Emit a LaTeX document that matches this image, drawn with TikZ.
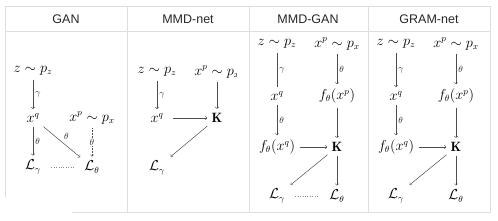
\documentclass[tikz,border=0pt]{standalone}
\usepackage{amsmath}
\usepackage{fontspec}
\newfontfamily\headfont{Liberation Sans}
\begin{document}
\begin{tikzpicture}[x=1pt,y=-1pt,font=\fontsize{13.5}{16}\selectfont,
		arr/.style={->,black!70,line width=0.5pt,shorten >=1pt,shorten <=1pt},
		lab/.style={font=\fontsize{9.5}{11}\selectfont,text=black!85,right,inner sep=2pt},
		cell/.style={black!13,line width=0.6pt},
		head/.style={font=\headfont\fontsize{12.5}{14}\selectfont,text=black!85}]
	\useasboundingbox (0,0) rectangle (498,220);
	% table
	\draw[cell] (5,6)--(490,6)--(490,212)--(72,212);
	\draw[cell] (5,6)--(5,197);
	\draw[cell] (5,31)--(490,31);
	\foreach \x in {127,249,368} \draw[cell] (\x,6)--(\x,212);
	\node[head] (hgan) at (66,19) {GAN};
	\node[head] (hnet) at (188,19) {MMD-net};
	\node[head] (hmgan) at (308,19) {MMD-GAN};
	\node[head] (hgram) at (429,19) {GRAM-net};
	% GAN
	\node (z1) at (33,71) {$z\sim p_z$};
	\node (xq1) at (33,118) {$x^q$};
	\node (xp1) at (92,118) {$x^p\sim p_x$};
	\node (lg1) at (33,167) {$\mathcal{L}_\gamma$};
	\node (lt1) at (92,167) {$\mathcal{L}_\theta$};
	\draw[arr] (z1)--(xq1) node[lab,midway] {$\gamma$};
	\draw[arr] (xq1)--(lg1) node[lab,midway] {$\theta$};
	\draw[arr] (xq1)--(lt1) node[lab,midway,above right] {$\theta$};
	\draw[arr,densely dotted] (xp1)--(lt1) node[midway,fill=white,inner sep=0.5pt,font=\fontsize{9.5}{11}\selectfont,text=black!85] {$\theta$};
	\draw[black!45,dotted,shorten <=7pt,shorten >=7pt] (lg1)--(lt1);
	% MMD-net
	\begin{scope}
		\clip (127,31) rectangle (236,212);
		\node (z2) at (157,72) {$z\sim p_z$};
		\node (xp2) at (217,72) {$x^p\sim p_x$};
		\node (xq2) at (157,118) {$x^q$};
		\node (K2) at (217,118) {$\mathbf{K}$};
		\node (lg2) at (157,168) {$\mathcal{L}_\gamma$};
		\draw[arr] (z2)--(xq2) node[lab,midway] {$\gamma$};
		\draw[arr] (xp2)--(K2);
		\draw[arr,shorten <=6pt] (xq2)--(K2);
		\draw[arr,shorten >=3pt] (K2)--(lg2);
	\end{scope}
	% MMD-GAN
	\node (z3) at (277,44) {$z\sim p_z$};
	\node (xp3) at (337,44) {$x^p\sim p_x$};
	\node (xq3) at (277,96) {$x^q$};
	\node (fp3) at (337,96) {$f_\theta(x^p)$};
	\node (fq3) at (277,147) {$f_\theta(x^q)$};
	\node (K3) at (337,147) {$\mathbf{K}$};
	\node (lg3) at (277,196) {$\mathcal{L}_\gamma$};
	\node (lt3) at (337,196) {$\mathcal{L}_\theta$};
	\draw[arr,-] (z3)--(xq3) node[lab,midway] {$\gamma$};
	\draw[arr] (xp3)--(fp3) node[lab,midway] {$\theta$};
	\draw[arr] (xq3)--(fq3) node[lab,midway] {$\theta$};
	\draw[arr] (fp3)--(K3);
	\draw[arr] (fq3)--(K3);
	\draw[arr,shorten >=3pt] (K3)--(lg3);
	\draw[arr] (K3)--(lt3);
	\draw[black!45,dotted,shorten <=7pt,shorten >=7pt] (lg3)--(lt3);
	% GRAM-net
	\node (z4) at (396,44) {$z\sim p_z$};
	\node (xp4) at (456,44) {$x^p\sim p_x$};
	\node (xq4) at (396,96) {$x^q$};
	\node (fp4) at (456,96) {$f_\theta(x^p)$};
	\node (fq4) at (396,147) {$f_\theta(x^q)$};
	\node (K4) at (456,147) {$\mathbf{K}$};
	\node (lg4) at (396,196) {$\mathcal{L}_\gamma$};
	\node (lt4) at (456,196) {$\mathcal{L}_\theta$};
	\draw[arr] (z4)--(xq4) node[lab,midway] {$\gamma$};
	\draw[arr] (xp4)--(fp4) node[lab,midway] {$\theta$};
	\draw[arr] (xq4)--(fq4) node[lab,midway] {$\theta$};
	\draw[arr] (fp4)--(K4);
	\draw[arr] (fq4)--(K4);
	\draw[arr,shorten >=3pt] (K4)--(lg4);
	\draw[arr] (K4)--(lt4);
\end{tikzpicture}
\end{document}
